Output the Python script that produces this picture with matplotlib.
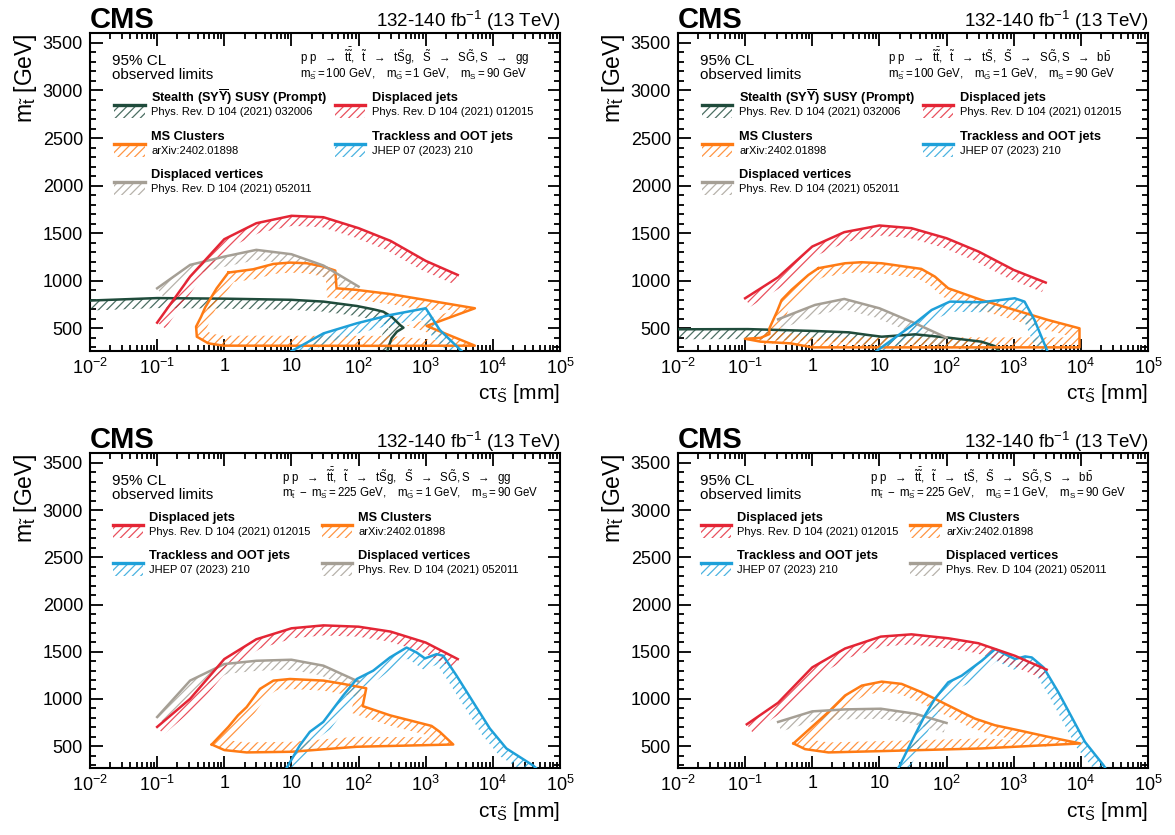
import numpy as np
import matplotlib
matplotlib.use("Agg")
import matplotlib.pyplot as plt
from matplotlib.patches import Polygon, Rectangle
from matplotlib.ticker import FixedLocator, LogLocator, MultipleLocator, NullFormatter

plt.rcParams['font.family'] = ['Liberation Sans', 'DejaVu Sans']
plt.rcParams['mathtext.fontset'] = 'custom'
plt.rcParams['mathtext.rm'] = 'Liberation Sans'
plt.rcParams['mathtext.it'] = 'Liberation Sans:italic'
plt.rcParams['mathtext.bf'] = 'Liberation Sans:bold'
plt.rcParams['hatch.linewidth'] = 0.9

RED, ORANGE, BLUE, GREY, GREEN = '#e42535', '#ff7b14', '#1ea0d9', '#a59f95', '#1f4b3b'

# ---- data (ctau [mm], stop mass [GeV]) ----
# top left: gg, m_S~ = 100
tl_dj_x = [0.1, 0.31, 1, 3, 10, 30, 100, 300, 1000, 3000]
tl_dj_y = [560, 1044, 1437, 1605, 1683, 1668, 1553, 1419, 1209, 1061]
tl_dv_x = [0.1, 0.31, 1, 3, 10, 30, 100]
tl_dv_y = [921, 1167, 1254, 1325, 1279, 1160, 939]
tl_ms_x = [1.15, 2.7, 5.4, 9.5, 17, 30, 45, 47, 94, 294, 1000, 5400, 1035, 5400,
           294, 0.97, 0.58, 0.39, 0.38, 0.45, 0.52, 0.77]
tl_ms_y = [1086, 1121, 1177, 1191, 1184, 1149, 1107, 921, 904, 861, 798, 711, 525, 318,
           316, 318, 342, 412, 518, 620, 721, 921]
tl_st_x = [0.01, 0.1, 1, 10, 30, 94, 166, 233, 310, 415, 466, 372, 310, 278, 265]
tl_st_y = [792, 818, 812, 800, 781, 735, 700, 675, 623, 535, 507, 465, 395, 300, 250]
tl_tr_x = [10, 30, 94, 294, 1000, 1620, 3500]
tl_tr_y = [260, 447, 553, 640, 711, 483, 255]

# top right: bb, m_S~ = 100
tr_dj_x = [0.1, 0.31, 1, 3, 10, 30, 100, 300, 1000, 3000]
tr_dj_y = [816, 1037, 1360, 1511, 1581, 1553, 1447, 1307, 1114, 981]
tr_dv_x = [0.31, 1.1, 3, 10, 34, 100]
tr_dv_y = [595, 746, 809, 711, 553, 402]
tr_ms_x = [1.23, 3.07, 5.4, 10.8, 42, 67, 106, 331, 1037, 3240, 9550, 9550, 1.0, 0.48,
           0.27, 0.17, 0.1, 0.17, 0.23, 0.23, 0.3, 0.35, 0.49, 0.875]
tr_ms_y = [1132, 1184, 1195, 1184, 1125, 1044, 921, 798, 693, 588, 500, 300, 300, 342,
           352, 360, 390, 400, 440, 500, 680, 798, 904, 1061]
tr_st_x = [0.01, 0.11, 1.1, 3.5, 6.8, 10.8, 34, 106, 330, 520, 600]
tr_st_y = [490, 492, 472, 458, 430, 412, 437, 402, 360, 314, 260]
tr_tr_x = [9, 33.7, 60, 112, 331, 1037, 1450, 2040, 3200]
tr_tr_y = [260, 553, 693, 781, 774, 816, 781, 588, 255]

# bottom left: gg, m_t~ - m_S~ = 225
bl_dj_x = [0.1, 0.31, 1, 3, 10, 30, 100, 300, 1000, 3000]
bl_dj_y = [703, 1001, 1422, 1632, 1748, 1779, 1765, 1713, 1597, 1422]
bl_dv_x = [0.1, 0.31, 1, 3, 10, 30, 100]
bl_dv_y = [808, 1194, 1369, 1404, 1415, 1352, 1183]
bl_ms_x = [0.65, 1.15, 1.6, 2.15, 3.4, 5.4, 9.5, 30, 59, 130, 115, 294, 1222, 1620, 2570,
           94, 10, 2.15, 1.0]
bl_ms_y = [517, 703, 826, 913, 1106, 1194, 1211, 1194, 1159, 1113, 924, 826, 714, 651, 517,
           493, 440, 433, 458]
bl_tr_x = [8.5, 13.4, 18.8, 29.8, 59, 94, 165, 293, 519, 731, 973, 1450, 1820, 2880, 5090,
           9020, 15900, 40000, 45000]
bl_tr_y = [270, 510, 651, 756, 1036, 1211, 1299, 1439, 1544, 1492, 1429, 1474, 1457, 1246,
           966, 686, 475, 293, 260]

# bottom right: bb, m_t~ - m_S~ = 225
br_dj_x = [0.106, 0.31, 1, 3.08, 10.5, 30, 107, 297, 1040, 3100]
br_dj_y = [731, 959, 1334, 1534, 1660, 1684, 1642, 1590, 1457, 1310]
br_dv_x = [0.31, 1, 3.08, 10.5, 34, 100]
br_dv_y = [756, 868, 889, 896, 843, 745]
br_ms_x = [0.525, 1.74, 3.08, 5.46, 10.8, 21.4, 42.5, 106, 265, 525, 1170, 3280, 9770,
           331, 10.8, 1.74, 0.78]
br_ms_y = [528, 861, 1036, 1141, 1183, 1159, 1071, 931, 791, 721, 668, 598, 528,
           475, 447, 433, 468]
br_tr_x = [19, 20.3, 30, 47.6, 67, 106, 168, 334, 528, 742, 1047, 1480, 1860, 2780, 4620,
           7300, 11500, 21600, 24000]
br_tr_y = [265, 300, 545, 826, 1001, 1176, 1246, 1404, 1527, 1474, 1422, 1450, 1439, 1334,
           1071, 808, 545, 300, 250]

xticks = [1e-2, 1e-1, 1, 10, 1e2, 1e3, 1e4, 1e5]
xticklabels = [r'$10^{-2}$', r'$10^{-1}$', '1', '10', r'$10^{2}$', r'$10^{3}$', r'$10^{4}$', r'$10^{5}$']

ANA = {
    'st': ('Stealth (SY$\\mathbf{\\overline{Y}}$) SUSY (Prompt)', 'Phys. Rev. D 104 (2021) 032006', GREEN),
    'dj': ('Displaced jets', 'Phys. Rev. D 104 (2021) 012015', RED),
    'ms': ('MS Clusters', 'arXiv:2402.01898', ORANGE),
    'tr': ('Trackless and OOT jets', 'JHEP 07 (2023) 210', BLUE),
    'dv': ('Displaced vertices', 'Phys. Rev. D 104 (2021) 052011', GREY),
}

proc_gg = r'$\mathrm{p\ p\ \ \rightarrow\ \ \tilde{t}\bar{\tilde{t}},\ \ \tilde{t}\ \ \rightarrow\ \ t\tilde{S}g,\ \ \tilde{S}\ \ \rightarrow\ \ S\tilde{G}, S\ \ \rightarrow\ \ gg}$'
proc_bb = r'$\mathrm{p\ p\ \ \rightarrow\ \ \tilde{t}\bar{\tilde{t}},\ \ \tilde{t}\ \ \rightarrow\ \ t\tilde{S},\ \ \tilde{S}\ \ \rightarrow\ \ S\tilde{G}, S\ \ \rightarrow\ \ b\bar{b}}$'
mass_a = r'$\mathrm{m_{\tilde{S}} = 100\ GeV,\ \ \ m_{\tilde{G}} = 1\ GeV,\ \ \ m_{S} = 90\ GeV}$'
mass_b = r'$\mathrm{m_{\tilde{t}}\ -\ m_{\tilde{S}} = 225\ GeV,\ \ \ m_{\tilde{G}} = 1\ GeV,\ \ \ m_{S} = 90\ GeV}$'

W = 10.0  # hatch band width in px
HATCH = '////'


def band(ax, x, y, color, closed=False, lw=1.8):
    pts = ax.transData.transform(np.column_stack([x, y]))
    if closed:
        pts = np.vstack([pts, pts[:1]])
    seg = np.diff(pts, axis=0)
    seg /= np.linalg.norm(seg, axis=1)[:, None]
    rn = np.column_stack([seg[:, 1], -seg[:, 0]])  # right-hand normals
    n = len(pts)
    vn = np.zeros_like(pts)
    for i in range(n):
        if i == 0:
            a = rn[-1] if closed else rn[0]
            b = rn[0]
        elif i == n - 1:
            a = rn[-1]
            b = rn[0] if closed else rn[-1]
        else:
            a, b = rn[i - 1], rn[i]
        v = a + b
        nv = np.linalg.norm(v)
        v = b if nv < 1e-6 else v / nv
        s = 1.0 / max(np.dot(v, b), 0.5)
        vn[i] = v * s
    off = pts + W * vn
    verts = np.vstack([pts, off[::-1]])
    verts = ax.transData.inverted().transform(verts)
    ax.add_patch(Polygon(verts, closed=True, fill=False, hatch=HATCH, edgecolor=color,
                         linewidth=0, alpha=0.8, zorder=2))
    line = ax.transData.inverted().transform(pts)
    ax.plot(line[:, 0], line[:, 1], color=color, lw=lw, zorder=3, solid_joinstyle='round')


def legend_entry(ax, x0, yl, key):
    title, ref, color = ANA[key]
    ax.add_patch(Rectangle((x0, yl - 0.040), 0.064, 0.040, transform=ax.transAxes, fill=False,
                           hatch=HATCH, edgecolor=color, linewidth=0, alpha=0.8))
    ax.plot([x0, x0 + 0.064], [yl, yl], transform=ax.transAxes, color=color, lw=2.4)
    ax.text(x0 + 0.078, yl + 0.023, title, transform=ax.transAxes, fontsize=9.2,
            fontweight='bold', va='center', ha='left')
    ax.text(x0 + 0.078, yl - 0.022, ref, transform=ax.transAxes, fontsize=8.0,
            va='center', ha='left')


fig = plt.figure(figsize=(11.75, 8.35), dpi=100)
positions = [[0.0766, 0.580, 0.400, 0.380], [0.577, 0.580, 0.400, 0.380],
             [0.0766, 0.0799, 0.400, 0.377], [0.577, 0.0799, 0.400, 0.377]]
axes = [fig.add_axes(p) for p in positions]

for ax in axes:
    ax.set_xscale('log')
    ax.set_xlim(1e-2, 1e5)
    ax.set_ylim(265, 3600)
    ax.xaxis.set_major_locator(FixedLocator(xticks))
    ax.set_xticklabels(xticklabels)
    ax.xaxis.set_minor_locator(LogLocator(base=10, subs=np.arange(2, 10), numticks=30))
    ax.xaxis.set_minor_formatter(NullFormatter())
    ax.yaxis.set_major_locator(MultipleLocator(500))
    ax.yaxis.set_minor_locator(MultipleLocator(100))
    ax.tick_params(which='both', direction='in', top=True, right=True, width=1.3,
                   labelsize=13, pad=5)
    ax.tick_params(which='major', length=9)
    ax.tick_params(which='minor', length=4.5)
    for s in ax.spines.values():
        s.set_linewidth(1.5)
    ax.set_xlabel(r'c$\mathrm{\tau}_{\tilde{\mathrm{S}}}$ [mm]', fontsize=15, loc='right')
    ax.xaxis.set_label_coords(1.0, -0.1)
    ax.set_ylabel(r'$\mathrm{m}_{\tilde{\mathrm{t}}}$ [GeV]', fontsize=16.5, loc='top')
    ax.yaxis.set_label_coords(-0.108, 1.0)
    ax.text(0.0, 1.017, 'CMS', transform=ax.transAxes, fontsize=21, fontweight='bold',
            va='baseline', ha='left')
    ax.text(1.0, 1.019, r'132-140 fb$^{-1}$ (13 TeV)', transform=ax.transAxes, fontsize=13.5,
            va='baseline', ha='right')
    ax.text(0.046, 0.914, '95% CL', transform=ax.transAxes, fontsize=11, va='center')
    ax.text(0.046, 0.869, 'observed limits', transform=ax.transAxes, fontsize=11, va='center')

tl, tr, bl, br = axes

# top left
band(tl, tl_st_x, tl_st_y, GREEN)
band(tl, tl_ms_x, tl_ms_y, ORANGE, closed=True)
band(tl, tl_dv_x, tl_dv_y, GREY)
band(tl, tl_tr_x, tl_tr_y, BLUE)
band(tl, tl_dj_x, tl_dj_y, RED)
# top right
band(tr, tr_st_x, tr_st_y, GREEN)
band(tr, tr_ms_x, tr_ms_y, ORANGE, closed=True)
band(tr, tr_dv_x, tr_dv_y, GREY)
band(tr, tr_tr_x, tr_tr_y, BLUE)
band(tr, tr_dj_x, tr_dj_y, RED)
# bottom left
band(bl, bl_ms_x, bl_ms_y, ORANGE, closed=True)
band(bl, bl_dv_x, bl_dv_y, GREY)
band(bl, bl_tr_x, bl_tr_y, BLUE)
band(bl, bl_dj_x, bl_dj_y, RED)
# bottom right
band(br, br_ms_x, br_ms_y, ORANGE, closed=True)
band(br, br_dv_x, br_dv_y, GREY)
band(br, br_tr_x, br_tr_y, BLUE)
band(br, br_dj_x, br_dj_y, RED)

# process text and legends
for ax, proc, mass, x0 in [(tl, proc_gg, mass_a, 0.447), (tr, proc_bb, mass_a, 0.447),
                            (bl, proc_gg, mass_b, 0.408), (br, proc_bb, mass_b, 0.408)]:
    ax.text(x0, 0.929, proc, transform=ax.transAxes, fontsize=8.3, va='center', ha='left')
    ax.text(x0, 0.872, mass, transform=ax.transAxes, fontsize=8.3, va='center', ha='left')

for ax in (tl, tr):
    legend_entry(ax, 0.052, 0.774, 'st')
    legend_entry(ax, 0.052, 0.652, 'ms')
    legend_entry(ax, 0.052, 0.531, 'dv')
    legend_entry(ax, 0.522, 0.774, 'dj')
    legend_entry(ax, 0.522, 0.652, 'tr')
for ax in (bl, br):
    legend_entry(ax, 0.048, 0.772, 'dj')
    legend_entry(ax, 0.048, 0.651, 'tr')
    legend_entry(ax, 0.493, 0.772, 'ms')
    legend_entry(ax, 0.493, 0.651, 'dv')

fig.savefig('out.png', dpi=100)
